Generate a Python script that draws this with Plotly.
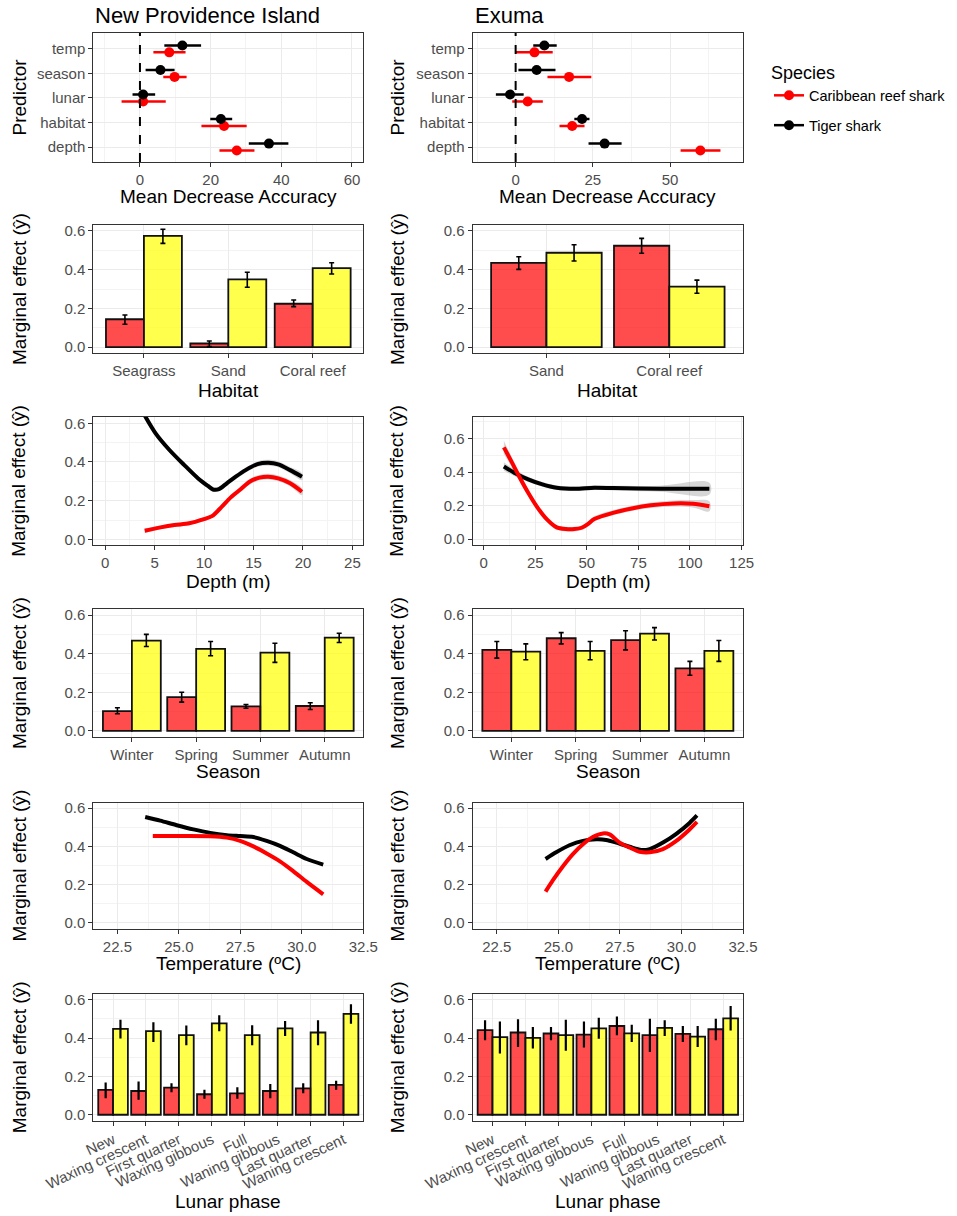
import plotly.graph_objects as go

# ---------------- data ----------------
predictors = ["depth", "habitat", "lunar", "season", "temp"]   # bottom -> top

npi_tiger_mda = [36.5, 22.9, 0.9, 5.8, 12.0]
npi_tiger_lo = [30.8, 19.9, -2.1, 1.6, 6.9]
npi_tiger_hi = [42.0, 26.1, 4.3, 9.8, 17.3]
npi_reef_mda = [27.4, 23.8, 0.9, 9.8, 8.3]
npi_reef_lo = [22.5, 17.4, -5.2, 6.6, 3.8]
npi_reef_hi = [32.4, 30.2, 7.3, 13.2, 12.9]

exu_tiger_mda = [28.8, 21.5, -1.8, 6.8, 9.3]
exu_tiger_lo = [23.6, 19.0, -6.4, 0.9, 5.7]
exu_tiger_hi = [34.3, 23.9, 2.6, 12.9, 13.3]
exu_reef_mda = [59.8, 18.3, 3.9, 17.3, 6.1]
exu_reef_lo = [53.4, 14.2, -1.1, 10.3, 0.0]
exu_reef_hi = [66.3, 22.3, 8.8, 24.5, 12.0]

npi_habitats = ["Seagrass", "Sand", "Coral reef"]
npi_hab_reef = [0.144, 0.019, 0.224]
npi_hab_reef_lo = [0.118, 0.003, 0.209]
npi_hab_reef_hi = [0.166, 0.032, 0.243]
npi_hab_tiger = [0.574, 0.350, 0.408]
npi_hab_tiger_lo = [0.535, 0.309, 0.377]
npi_hab_tiger_hi = [0.608, 0.386, 0.435]

exu_habitats = ["Sand", "Coral reef"]
exu_hab_reef = [0.435, 0.523]
exu_hab_reef_lo = [0.401, 0.484]
exu_hab_reef_hi = [0.466, 0.561]
exu_hab_tiger = [0.487, 0.312]
exu_hab_tiger_lo = [0.444, 0.278]
exu_hab_tiger_hi = [0.528, 0.346]

npi_depth_tiger_x = [4.0, 5.1, 6.5, 8.0, 9.4, 10.4, 10.9, 11.5, 12.3, 13.2, 14.2, 15.4, 16.5, 17.5, 18.7, 19.9]
npi_depth_tiger_y = [0.64, 0.548, 0.462, 0.384, 0.315, 0.276, 0.258, 0.26, 0.29, 0.324, 0.358, 0.389, 0.396, 0.388, 0.358, 0.324]
npi_depth_tiger_se = [0.02, 0.016, 0.014, 0.013, 0.012, 0.012, 0.012, 0.012, 0.013, 0.013, 0.013, 0.014, 0.015, 0.015, 0.016, 0.018]
npi_depth_reef_x = [4.0, 5.6, 7.0, 8.5, 9.9, 10.8, 11.8, 12.7, 13.7, 14.6, 15.6, 16.5, 17.5, 18.7, 19.9]
npi_depth_reef_y = [0.045, 0.062, 0.074, 0.083, 0.103, 0.12, 0.169, 0.217, 0.259, 0.298, 0.319, 0.324, 0.315, 0.29, 0.246]
npi_depth_reef_se = [0.012, 0.01, 0.01, 0.01, 0.01, 0.01, 0.011, 0.012, 0.013, 0.014, 0.014, 0.015, 0.015, 0.016, 0.018]

exu_depth_tiger_x = [9.8, 14.8, 21.6, 28.5, 35.4, 44.4, 53.6, 62.7, 85.5, 109.4]
exu_depth_tiger_y = [0.434, 0.397, 0.357, 0.327, 0.307, 0.301, 0.307, 0.305, 0.301, 0.301]
exu_depth_tiger_se = [0.025, 0.02, 0.016, 0.014, 0.013, 0.013, 0.013, 0.014, 0.018, 0.035]
exu_depth_reef_x = [9.8, 13.7, 17.1, 21.6, 26.2, 30.8, 35.4, 39.9, 44.0, 47.5, 50.5, 53.6, 62.7, 71.8, 81.0, 92.3, 101.4, 109.4]
exu_depth_reef_y = [0.548, 0.458, 0.377, 0.277, 0.187, 0.116, 0.07, 0.06, 0.06, 0.068, 0.09, 0.12, 0.157, 0.183, 0.202, 0.213, 0.211, 0.196]
exu_depth_reef_se = [0.04, 0.03, 0.025, 0.02, 0.017, 0.015, 0.014, 0.014, 0.014, 0.014, 0.014, 0.015, 0.015, 0.015, 0.016, 0.018, 0.022, 0.03]

seasons = ["Winter", "Spring", "Summer", "Autumn"]
npi_sea_reef = [0.103, 0.175, 0.127, 0.129]
npi_sea_reef_lo = [0.089, 0.149, 0.117, 0.111]
npi_sea_reef_hi = [0.120, 0.200, 0.137, 0.146]
npi_sea_tiger = [0.468, 0.425, 0.406, 0.483]
npi_sea_tiger_lo = [0.437, 0.389, 0.355, 0.458]
npi_sea_tiger_hi = [0.500, 0.463, 0.454, 0.506]
exu_sea_reef = [0.420, 0.480, 0.470, 0.324]
exu_sea_reef_lo = [0.377, 0.451, 0.420, 0.288]
exu_sea_reef_hi = [0.463, 0.509, 0.519, 0.360]
exu_sea_tiger = [0.411, 0.415, 0.504, 0.415]
exu_sea_tiger_lo = [0.369, 0.369, 0.471, 0.360]
exu_sea_tiger_hi = [0.451, 0.463, 0.535, 0.468]

npi_temp_tiger_x = [23.63, 24.24, 24.91, 25.59, 26.27, 26.95, 27.49, 28.03, 28.57, 29.11, 29.65, 30.2, 30.87]
npi_temp_tiger_y = [0.554, 0.535, 0.511, 0.489, 0.471, 0.459, 0.454, 0.449, 0.429, 0.403, 0.369, 0.334, 0.305]
npi_temp_reef_x = [23.94, 24.91, 26.27, 26.95, 27.49, 28.03, 28.57, 29.11, 29.65, 30.2, 30.87]
npi_temp_reef_y = [0.454, 0.454, 0.453, 0.446, 0.429, 0.400, 0.363, 0.322, 0.271, 0.214, 0.149]

exu_temp_tiger_x = [24.48, 24.91, 25.45, 26.0, 26.54, 26.94, 27.35, 27.89, 28.37, 28.71, 29.25, 29.79, 30.33, 30.63]
exu_temp_tiger_y = [0.334, 0.369, 0.406, 0.429, 0.437, 0.434, 0.420, 0.398, 0.381, 0.386, 0.420, 0.466, 0.523, 0.562]
exu_temp_reef_x = [24.48, 24.78, 25.18, 25.59, 26.0, 26.4, 26.81, 27.08, 27.49, 27.89, 28.3, 28.71, 29.25, 29.79, 30.33, 30.63]
exu_temp_reef_y = [0.163, 0.223, 0.295, 0.360, 0.411, 0.449, 0.468, 0.463, 0.420, 0.394, 0.372, 0.369, 0.386, 0.429, 0.489, 0.528]

phases = ["New", "Waxing crescent", "First quarter", "Waxing gibbous",
          "Full", "Waning gibbous", "Last quarter", "Waning crescent"]
npi_lun_reef = [0.130, 0.124, 0.142, 0.107, 0.112, 0.124, 0.138, 0.156]
npi_lun_reef_lo = [0.086, 0.078, 0.118, 0.083, 0.083, 0.086, 0.112, 0.130]
npi_lun_reef_hi = [0.168, 0.173, 0.164, 0.130, 0.143, 0.161, 0.164, 0.178]
npi_lun_tiger = [0.448, 0.436, 0.415, 0.477, 0.415, 0.451, 0.429, 0.526]
npi_lun_tiger_lo = [0.398, 0.380, 0.363, 0.436, 0.363, 0.411, 0.363, 0.475]
npi_lun_tiger_hi = [0.496, 0.482, 0.465, 0.519, 0.467, 0.489, 0.493, 0.576]
exu_lun_reef = [0.441, 0.429, 0.424, 0.418, 0.463, 0.415, 0.422, 0.446]
exu_lun_reef_lo = [0.389, 0.354, 0.389, 0.351, 0.415, 0.328, 0.379, 0.389]
exu_lun_reef_hi = [0.493, 0.498, 0.458, 0.486, 0.512, 0.501, 0.463, 0.501]
exu_lun_tiger = [0.405, 0.401, 0.415, 0.451, 0.425, 0.453, 0.408, 0.503]
exu_lun_tiger_lo = [0.320, 0.346, 0.334, 0.396, 0.380, 0.411, 0.354, 0.439]
exu_lun_tiger_hi = [0.487, 0.458, 0.496, 0.506, 0.470, 0.493, 0.463, 0.567]

# ---------------- styling ----------------
W, H = 957, 1216
FONT = "Liberation Sans, Arial, sans-serif"
RED, BLACK = "#FF0000", "#000000"
RED_FILL, YEL_FILL = "rgba(255,0,0,0.7)", "rgba(255,255,0,0.7)"
YTITLE = "Marginal effect (\u0177)"

col_x = [(93.3, 363.3), (472.7, 743.0)]
row_y = [(33, 162), (225, 353), (416.7, 545), (609.3, 736.7), (802.5, 928.5), (994, 1120.5)]


def ax_id(r, c):
    return r * 2 + c + 1


def sfx(k):
    return "" if k == 1 else str(k)


def axis_style(**kw):
    d = dict(showline=True, linecolor="#333333", linewidth=1.1, mirror=True,
             ticks="outside", ticklen=4, tickcolor="#333333", tickwidth=1.1,
             tickfont=dict(size=15, color="#4D4D4D", family=FONT),
             showgrid=True, gridcolor="#EBEBEB", gridwidth=1.4, zeroline=False,
             automargin=False)
    d.update(kw)
    return d


def minor(step, start=0):
    return dict(tick0=start, dtick=step, showgrid=True, gridcolor="#F3F3F3",
                gridwidth=0.8, ticks="")


def err(val, lo, hi):
    return [h - v for v, h in zip(val, hi)], [v - l for v, l in zip(val, lo)]


fig = go.Figure()


# ---------- row 1: mean decrease accuracy ----------
def mda_panel(c, tiger, tlo, thi, reef, rlo, rhi):
    k = sfx(ax_id(0, c))
    pos = list(range(1, len(predictors) + 1))
    for vals, lo, hi, col, off in [(reef, rlo, rhi, RED, -0.14), (tiger, tlo, thi, BLACK, 0.14)]:
        up, dn = err(vals, lo, hi)
        fig.add_trace(go.Scatter(
            x=vals, y=[p + off for p in pos], mode="markers",
            marker=dict(color=col, size=10),
            error_x=dict(type="data", symmetric=False, array=up, arrayminus=dn,
                         color=col, thickness=2.5, width=0),
            xaxis=f"x{k}", yaxis=f"y{k}", showlegend=False))
    fig.add_shape(type="line", xref=f"x{k}", yref=f"y{k} domain", x0=0, x1=0, y0=0, y1=1,
                  line=dict(color="#000000", width=2, dash="dash"))


mda_panel(0, npi_tiger_mda, npi_tiger_lo, npi_tiger_hi, npi_reef_mda, npi_reef_lo, npi_reef_hi)
mda_panel(1, exu_tiger_mda, exu_tiger_lo, exu_tiger_hi, exu_reef_mda, exu_reef_lo, exu_reef_hi)

# legend-only entries
for name, col in [("Caribbean reef shark", RED), ("Tiger shark", BLACK)]:
    fig.add_trace(go.Scatter(x=[None], y=[None], mode="lines+markers", name=name,
                             legendgroup=name,
                             marker=dict(color=col, size=10), line=dict(color=col, width=2.5),
                             xaxis="x", yaxis="y"))


# ---------- bar panels ----------
def bar_panel(r, c, cats, reef, rlo, rhi, tiger, tlo, thi, caps):
    k = sfx(ax_id(r, c))
    for vals, lo, hi, fill in [(reef, rlo, rhi, RED_FILL), (tiger, tlo, thi, YEL_FILL)]:
        up, dn = err(vals, lo, hi)
        fig.add_trace(go.Bar(
            x=cats, y=vals, marker=dict(color=fill, line=dict(color="#111111", width=1.8)),
            error_y=dict(type="data", symmetric=False, array=up, arrayminus=dn,
                         color="#000000", thickness=1.6 if caps else 2.2,
                         width=2.5 if caps else 0),
            xaxis=f"x{k}", yaxis=f"y{k}", showlegend=False))


bar_panel(1, 0, npi_habitats, npi_hab_reef, npi_hab_reef_lo, npi_hab_reef_hi,
          npi_hab_tiger, npi_hab_tiger_lo, npi_hab_tiger_hi, True)
bar_panel(1, 1, exu_habitats, exu_hab_reef, exu_hab_reef_lo, exu_hab_reef_hi,
          exu_hab_tiger, exu_hab_tiger_lo, exu_hab_tiger_hi, True)
bar_panel(3, 0, seasons, npi_sea_reef, npi_sea_reef_lo, npi_sea_reef_hi,
          npi_sea_tiger, npi_sea_tiger_lo, npi_sea_tiger_hi, True)
bar_panel(3, 1, seasons, exu_sea_reef, exu_sea_reef_lo, exu_sea_reef_hi,
          exu_sea_tiger, exu_sea_tiger_lo, exu_sea_tiger_hi, True)
bar_panel(5, 0, phases, npi_lun_reef, npi_lun_reef_lo, npi_lun_reef_hi,
          npi_lun_tiger, npi_lun_tiger_lo, npi_lun_tiger_hi, False)
bar_panel(5, 1, phases, exu_lun_reef, exu_lun_reef_lo, exu_lun_reef_hi,
          exu_lun_tiger, exu_lun_tiger_lo, exu_lun_tiger_hi, False)


# ---------- curve panels ----------
def curve_panel(r, c, curves):
    k = sfx(ax_id(r, c))
    for xs, ys, se, col in curves:
        if se is not None:
            upper = [y + s for y, s in zip(ys, se)]
            lower = [y - s for y, s in zip(ys, se)]
            fig.add_trace(go.Scatter(
                x=xs + xs[::-1], y=upper + lower[::-1], fill="toself",
                fillcolor="rgba(153,153,153,0.4)", line=dict(width=0, shape="spline"),
                mode="lines", hoverinfo="skip",
                xaxis=f"x{k}", yaxis=f"y{k}", showlegend=False))
    for xs, ys, se, col in curves:
        fig.add_trace(go.Scatter(
            x=xs, y=ys, mode="lines", line=dict(color=col, width=4, shape="spline", smoothing=0.8),
            xaxis=f"x{k}", yaxis=f"y{k}", showlegend=False))


curve_panel(2, 0, [(npi_depth_tiger_x, npi_depth_tiger_y, npi_depth_tiger_se, BLACK),
                   (npi_depth_reef_x, npi_depth_reef_y, npi_depth_reef_se, RED)])
curve_panel(2, 1, [(exu_depth_tiger_x, exu_depth_tiger_y, exu_depth_tiger_se, BLACK),
                   (exu_depth_reef_x, exu_depth_reef_y, exu_depth_reef_se, RED)])
curve_panel(4, 0, [(npi_temp_tiger_x, npi_temp_tiger_y, None, BLACK),
                   (npi_temp_reef_x, npi_temp_reef_y, None, RED)])
curve_panel(4, 1, [(exu_temp_tiger_x, exu_temp_tiger_y, None, BLACK),
                   (exu_temp_reef_x, exu_temp_reef_y, None, RED)])

# ---------------- axes ----------------
layout_axes = {}
bar_y = dict(range=[-0.03, 0.63], tickmode="linear", tick0=0, dtick=0.2, tickformat=".1f",
             minor=minor(0.1))
x_specs = {
    (0, 0): dict(range=[-13.2, 63.2], tickmode="linear", tick0=0, dtick=20, minor=minor(10)),
    (0, 1): dict(range=[-13.9, 73.6], tickmode="linear", tick0=0, dtick=25, minor=minor(12.5)),
    (1, 0): dict(type="category", range=[-0.6, 2.6]),
    (1, 1): dict(type="category", range=[-0.6, 1.6]),
    (2, 0): dict(range=[-1.2, 26.1], tickmode="linear", tick0=0, dtick=5, minor=minor(2.5)),
    (2, 1): dict(range=[-5.3, 125.7], tickmode="linear", tick0=0, dtick=25, minor=minor(12.5)),
    (3, 0): dict(type="category", range=[-0.6, 3.6]),
    (3, 1): dict(type="category", range=[-0.6, 3.6]),
    (4, 0): dict(range=[21.52, 32.5], tickmode="linear", tick0=22.5, dtick=2.5,
                 tickformat=".1f", minor=minor(1.25, 22.5)),
    (4, 1): dict(range=[21.52, 32.5], tickmode="linear", tick0=22.5, dtick=2.5,
                 tickformat=".1f", minor=minor(1.25, 22.5)),
    (5, 0): dict(type="category", range=[-0.6, 7.6], tickangle=-25),
    (5, 1): dict(type="category", range=[-0.6, 7.6], tickangle=-25),
}
y_specs = {
    (0, 0): dict(range=[0.39, 5.65], tickmode="array", tickvals=[1, 2, 3, 4, 5], ticktext=predictors),
    (0, 1): dict(range=[0.39, 5.65], tickmode="array", tickvals=[1, 2, 3, 4, 5], ticktext=predictors),
    (1, 0): bar_y, (1, 1): bar_y,
    (2, 0): dict(range=[-0.029, 0.634], tickmode="linear", tick0=0, dtick=0.2, tickformat=".1f",
                 minor=minor(0.1)),
    (2, 1): dict(range=[-0.035, 0.731], tickmode="linear", tick0=0, dtick=0.2, tickformat=".1f",
                 minor=minor(0.1)),
    (3, 0): bar_y, (3, 1): bar_y, (4, 0): bar_y, (4, 1): bar_y, (5, 0): bar_y, (5, 1): bar_y,
}

for r in range(6):
    for c in range(2):
        k = sfx(ax_id(r, c))
        xd = [col_x[c][0] / W, col_x[c][1] / W]
        yd = [1 - row_y[r][1] / H, 1 - row_y[r][0] / H]
        layout_axes[f"xaxis{k}"] = axis_style(domain=xd, anchor=f"y{k}", **x_specs[(r, c)])
        layout_axes[f"yaxis{k}"] = axis_style(domain=yd, anchor=f"x{k}", **y_specs[(r, c)])

fig.update_layout(**layout_axes)

# ---------------- text ----------------
ann = []
ann.append(dict(text="New Providence Island", x=col_x[0][0] / W, y=1 - 15 / H,
                xanchor="left", yanchor="middle", font=dict(size=22, color="#000000")))
ann.append(dict(text="Exuma", x=col_x[1][0] / W, y=1 - 15 / H,
                xanchor="left", yanchor="middle", font=dict(size=22, color="#000000")))

x_titles = ["Mean Decrease Accuracy", "Habitat", "Depth (m)", "Season", "Temperature (\u00baC)", "Lunar phase"]
x_title_y = [196.5, 390, 581.5, 771.5, 963, 1201.5]
y_titles = ["Predictor", YTITLE, YTITLE, YTITLE, YTITLE, YTITLE]
y_title_x = [19, 397]
for r in range(6):
    for c in range(2):
        ann.append(dict(text=x_titles[r], x=(col_x[c][0] + col_x[c][1]) / 2 / W,
                        y=1 - x_title_y[r] / H, xanchor="center", yanchor="middle",
                        font=dict(size=19, color="#000000")))
        ann.append(dict(text=y_titles[r], x=y_title_x[c] / W,
                        y=1 - (row_y[r][0] + row_y[r][1]) / 2 / H, textangle=-90,
                        xanchor="center", yanchor="middle",
                        font=dict(size=19, color="#000000")))
for a in ann:
    a.update(xref="paper", yref="paper", showarrow=False)

fig.update_layout(
    width=W, height=H,
    margin=dict(l=0, r=0, t=0, b=0, autoexpand=False),
    paper_bgcolor="white", plot_bgcolor="white",
    font=dict(family=FONT, color="#000000"),
    barmode="group", bargap=0.1, bargroupgap=0,
    annotations=ann,
    showlegend=True,
    legend=dict(x=769 / W, y=1 - 56 / H, xanchor="left", yanchor="top",
                title=dict(text="Species", font=dict(size=18, color="#000000")),
                font=dict(size=14.5, color="#000000"), itemwidth=30,
                tracegroupgap=8, bgcolor="rgba(0,0,0,0)"),
)

fig.write_html("out.html", config={"displayModeBar": False},
               post_script="document.body.style.margin='0';")
